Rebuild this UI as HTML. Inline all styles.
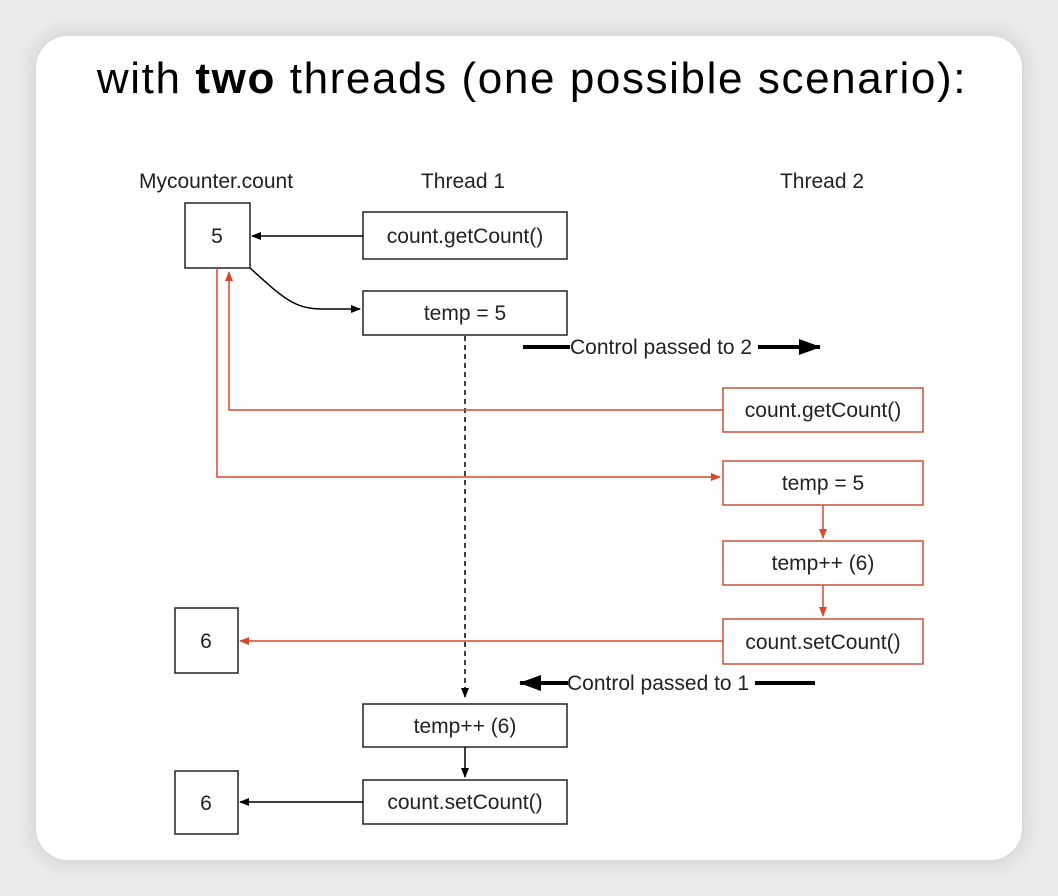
<!DOCTYPE html>
<html><head><meta charset="utf-8"><style>
html,body{margin:0;padding:0;background:#ececec;}
body{width:1058px;height:896px;position:relative;overflow:hidden;font-family:"Liberation Sans",sans-serif;}
.card{position:absolute;left:36px;top:36px;width:986px;height:824px;background:#fff;border-radius:32px;box-shadow:0 0 18px 6px rgba(0,0,0,0.10);}
</style></head><body>
<div class="card"></div>
<svg width="1058" height="896" style="position:absolute;left:0;top:0" font-family="Liberation Sans, sans-serif">
<defs>
<marker id="ab" markerWidth="10" markerHeight="8" refX="9" refY="4" orient="auto" markerUnits="userSpaceOnUse"><path d="M0,0 L10,4 L0,8 z" fill="#000"/></marker>
<marker id="ar" markerWidth="10" markerHeight="8" refX="9" refY="4" orient="auto" markerUnits="userSpaceOnUse"><path d="M0,0 L10,4 L0,8 z" fill="#d9472b"/></marker>
<marker id="big" markerWidth="22" markerHeight="16" refX="21" refY="8" orient="auto" markerUnits="userSpaceOnUse"><path d="M0,0 L22,8 L0,16 z" fill="#000"/></marker>
</defs>
<text x="532" y="93" font-size="44" letter-spacing="1.6" text-anchor="middle" fill="#000">with <tspan font-weight="bold">two</tspan> threads (one possible scenario):</text>
<g font-size="21" fill="#222" text-anchor="middle">
<text x="216" y="188">Mycounter.count</text>
<text x="463" y="188">Thread 1</text>
<text x="822" y="188">Thread 2</text>
</g>
<g fill="#fff" stroke="#222" stroke-width="1.5">
<rect x="185" y="203" width="65" height="65"/>
<rect x="363" y="212" width="204" height="47"/>
<rect x="363" y="291" width="204" height="44"/>
<rect x="175" y="608" width="63" height="65"/>
<rect x="363" y="704" width="204" height="43"/>
<rect x="363" y="780" width="204" height="44"/>
<rect x="175" y="771" width="63" height="63"/>
</g>
<g fill="#fff" stroke="#c9513a" stroke-width="1.5">
<rect x="723" y="388" width="200" height="44"/>
<rect x="723" y="461" width="200" height="44"/>
<rect x="723" y="541" width="200" height="44"/>
<rect x="723" y="619" width="200" height="45"/>
</g>
<g font-size="21" fill="#222" text-anchor="middle">
<text x="217" y="243">5</text>
<text x="465" y="243">count.getCount()</text>
<text x="465" y="320">temp = 5</text>
<text x="823" y="417">count.getCount()</text>
<text x="823" y="490">temp = 5</text>
<text x="823" y="570">temp++ (6)</text>
<text x="823" y="649">count.setCount()</text>
<text x="206" y="648">6</text>
<text x="465" y="733">temp++ (6)</text>
<text x="465" y="809">count.setCount()</text>
<text x="206" y="810">6</text>
</g>
<g stroke="#000" stroke-width="1.5" fill="none">
<line x1="363" y1="236" x2="252" y2="236" marker-end="url(#ab)"/>
<path d="M250,268 C285,300 295,308 320,309 L360,309" marker-end="url(#ab)"/>
<line x1="465" y1="336" x2="465" y2="697" stroke-dasharray="5,4" marker-end="url(#ab)"/>
<line x1="465" y1="747" x2="465" y2="777" marker-end="url(#ab)"/>
<line x1="363" y1="802" x2="240" y2="802" marker-end="url(#ab)"/>
</g>
<g stroke="#d9472b" stroke-width="1.5" fill="none">
<polyline points="723,410 229,410 229,272" marker-end="url(#ar)"/>
<polyline points="217,268 217,477 720,477" marker-end="url(#ar)"/>
<line x1="823" y1="505" x2="823" y2="538" marker-end="url(#ar)"/>
<line x1="823" y1="585" x2="823" y2="616" marker-end="url(#ar)"/>
<line x1="723" y1="641" x2="240" y2="641" marker-end="url(#ar)"/>
</g>
<g stroke="#000" stroke-width="4">
<line x1="523" y1="347" x2="570" y2="347"/>
<line x1="758" y1="347" x2="820" y2="347" marker-end="url(#big)"/>
<line x1="568" y1="683" x2="520" y2="683" marker-end="url(#big)"/>
<line x1="755" y1="683" x2="815" y2="683"/>
</g>
<g font-size="21" fill="#222">
<text x="570" y="354">Control passed to 2</text>
<text x="567" y="690">Control passed to 1</text>
</g>
</svg>
</body></html>
